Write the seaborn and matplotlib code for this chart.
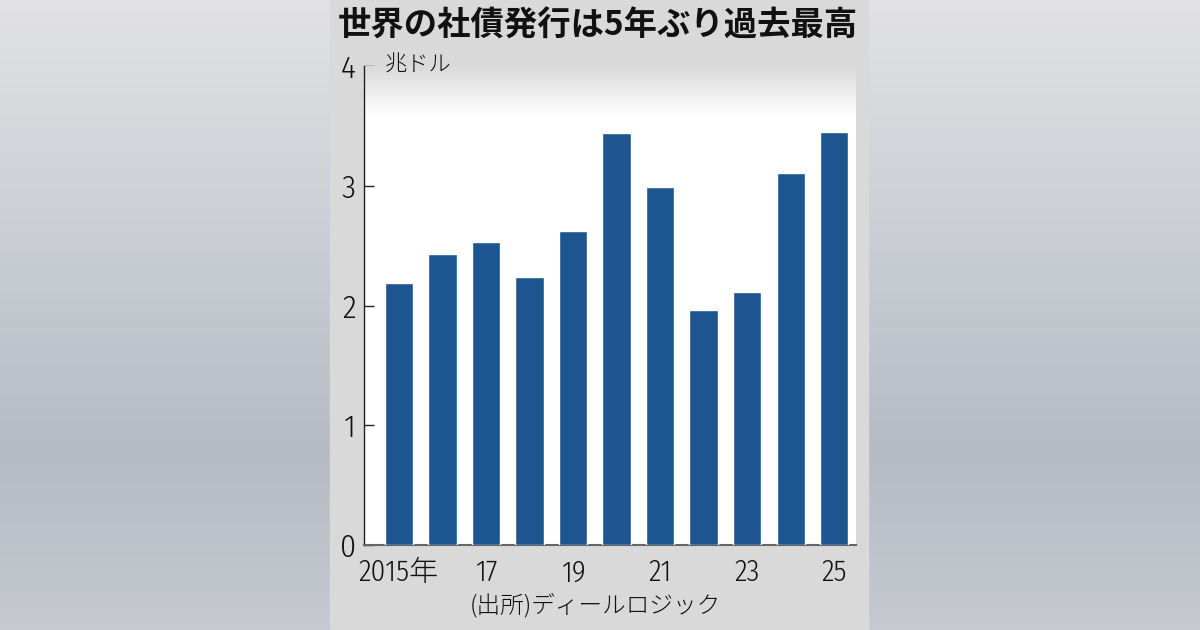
import numpy as np
import pandas as pd
import matplotlib.pyplot as plt
import seaborn as sns
from matplotlib.patches import Rectangle
from matplotlib.colors import LinearSegmentedColormap

# data (trillion dollars)
years = [2015, 2016, 2017, 2018, 2019, 2020, 2021, 2022, 2023, 2024, 2025]
issuance = [2.19, 2.43, 2.53, 2.24, 2.62, 3.44, 2.99, 1.96, 2.11, 3.11, 3.45]
tick_years = [2015, 2017, 2019, 2021, 2023, 2025]
tick_labels = ["2015年", "17", "19", "21", "23", "25"]
y_ticks = [0, 1, 2, 3, 4]

df = pd.DataFrame({"year": years, "value": issuance})

sns.set_theme(style="white")
jp = ["Noto Sans CJK JP", "DejaVu Sans"]
num = ["Fira Sans Condensed", "Noto Sans CJK JP", "DejaVu Sans"]
plt.rcParams["font.family"] = jp

fig = plt.figure(figsize=(12, 6.3), dpi=100)

# blurred page background
bg = fig.add_axes([0, 0, 1, 1], zorder=-10)
t = np.linspace(0, 1, 200)[:, None]
top = np.array([226, 226, 228]) / 255
mid = np.array([181, 187, 197]) / 255
bot = np.array([198, 201, 207]) / 255
w = np.clip(t / 0.72, 0, 1)
col = top * (1 - w) + mid * w
w2 = np.clip((t - 0.72) / 0.28, 0, 1)
col = col * (1 - w2) + bot * w2
bg.imshow(np.repeat(col[:, None, :], 2, axis=1), aspect="auto", extent=(0, 1, 0, 1))
bg.set_xlim(0, 1)
bg.set_ylim(0, 1)
bg.axis("off")
panel_color = "#d9d9d9"
bg.add_patch(Rectangle((330 / 1200, 0), 538 / 1200, 1, color=panel_color, zorder=5))

ax = fig.add_axes([364 / 1200, 85 / 630, 492 / 1200, 479 / 630])
ax.set_facecolor("white")

sns.barplot(data=df, x="year", y="value", color="#1c5590", width=0.65,
            saturation=1, ax=ax, zorder=3)

ax.set_xlim(-0.8, 10.5)
ax.set_ylim(0, 4)

# gray fade at the top of the plot area
cmap = LinearSegmentedColormap.from_list("fade", ["white", panel_color])
ax.imshow(np.linspace(0, 1, 100)[:, None][::-1], cmap=cmap, aspect="auto",
          extent=(-0.8, 10.5, 3.58, 4), zorder=1)

ax.set_yticks(y_ticks)
ax.set_yticklabels([str(v) for v in y_ticks], family=num, fontsize=23, fontweight=300)
ax.tick_params(axis="y", direction="in", length=7, width=1, color="#222222",
               pad=6, left=True)
pos = [years.index(y) for y in tick_years]
ax.set_xticks(pos)
ax.set_xticklabels(tick_labels, family=num, fontsize=21, fontweight=300)
ax.tick_params(axis="x", length=0, pad=10)
for lab in ax.get_yticklabels() + ax.get_xticklabels():
    lab.set_color("#111111")

ax.set_xlabel("")
ax.set_ylabel("")
for s in ["top", "right"]:
    ax.spines[s].set_visible(False)
ax.spines["left"].set_color("#222222")
ax.spines["left"].set_linewidth(1)
ax.spines["bottom"].set_color("#666666")
ax.spines["bottom"].set_linewidth(1.5)

ax.text(0.043, 4, "兆ドル", transform=ax.get_yaxis_transform(), family=jp,
        fontsize=16, fontweight=300, va="center", ha="left", color="#111111")

fig.text(598 / 1200, 1 - 26 / 630, "世界の社債発行は5年ぶり過去最高", family=jp,
         fontsize=24, fontweight="bold", ha="center", va="center", color="#111111")
fig.text(595 / 1200, 1 - 606 / 630, "(出所)ディールロジック", family=jp,
         fontsize=17, fontweight=300, ha="center", va="center", color="#111111")

fig.savefig("out.png", dpi=100)
